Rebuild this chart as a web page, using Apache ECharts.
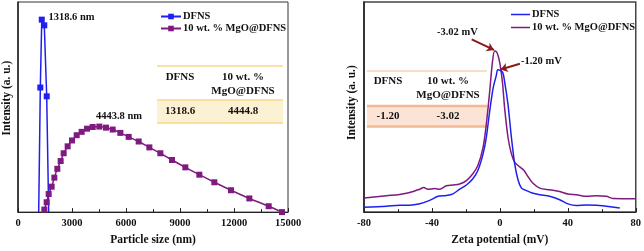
<!DOCTYPE html>
<html><head><meta charset="utf-8">
<script src="https://cdn.jsdelivr.net/npm/echarts@6/dist/echarts.min.js"></script>
<style>html,body{margin:0;padding:0;background:#fff}#c{width:644px;height:251px}</style>
</head><body><div id="c"></div>
<script>
// ---- Left chart: particle size distribution ----
const sizeTicks = [0, 3000, 6000, 9000, 12000, 15000];
const dfnsSize = [1150, 1240, 1320, 1460, 1595, 1705];
const dfnsSizeInt = [0, 59.3, 91.6, 88.9, 55.1, 0];
const mgoSize = [1463,1593,1704,1870,2019,2185,2370,2537,2759,3000,3260,3537,3834,4148,4519,4889,5260,5686,6149,6704,7297,7908,8556,9297,10075,10908,11834,12853,13927,14668];
const mgoSizeInt = [1.2,4.7,8.6,12.1,16.4,20.6,24.3,28.0,31.3,34.1,36.6,38.2,39.7,40.5,40.7,40.2,39.3,37.7,35.8,33.6,30.8,28.0,24.8,21.3,17.8,14.2,10.4,6.5,2.8,0];
const sizeTableHead = ['DFNS', '10 wt. %\nMgO@DFNS'];
const sizeTableVals = ['1318.6', '4444.8'];

// ---- Right chart: zeta potential ----
const zetaTicks = [-80, -40, 0, 40, 80];
const dfnsZeta = [-80,-66.8,-59,-53.1,-47.2,-41.3,-36.4,-31.5,-27.6,-23.7,-19.7,-15.8,-12.9,-9.9,-8,-6,-4,-2.1,-1.2,1.5,2.8,4.8,6.8,8.7,10.7,12.7,14.6,19.5,23.5,29.3,35.2,40.1,45,50.9,56.8,62.7,70.6];
const dfnsZetaInt = [2.3,2.8,3.3,3.3,4.0,5.6,7.5,7.9,8.7,10.9,12.9,16.0,19.9,27.7,35.5,48.0,58.9,65.1,67.8,66.7,62.0,51.1,35.5,23.1,15.3,11.4,10.6,9.0,8.3,7.5,5.9,3.9,3.1,3.4,3.3,2.8,2.0];
const mgoZeta = [-80,-66.8,-59,-53.1,-47.2,-44.9,-42.3,-38.4,-35.4,-31.5,-27.6,-23.7,-19.7,-15.8,-12.9,-9.9,-8,-6,-4.4,-3.02,-1.7,-0.1,1.5,2.8,4.8,6.8,8.7,11.7,14.1,16.6,19.5,23.5,29.3,35.2,40.1,45,50.9,56.8,62.7,66.6,80];
const mgoZetaInt = [6.7,7.8,8.4,9.3,10.9,11.7,10.9,11.2,10.9,12.5,12.9,13.4,15.0,18.4,22.3,30.8,41.7,57.3,71.3,76.8,76.0,71.3,62.0,49.5,35.5,27.7,23.8,21.5,19.9,16.8,13.7,11.4,10.6,9.8,8.6,8.3,7.5,7.8,7.5,6.5,6.4];
const zetaTableHead = ['DFNS', '10 wt. %\nMgO@DFNS'];
const zetaTableVals = ['-1.20', '-3.02'];

const FONT = 'Liberation Serif';
const BLUE = '#1f1fef', PURPLE = '#7e1a80', ARROW = '#8b1a1a';
const txt = (s) => ({fontFamily: FONT, fontWeight: 'bold', fontSize: s, color: '#111'});

const pair = (xs, ys) => xs.map((x, i) => [x, ys[i]]);
const dfnsSizeData = dfnsSize.map((x, i) => (dfnsSizeInt[i] === 0 ? {value: [x, 0], symbol: 'none'} : [x, dfnsSizeInt[i]]));

const chart = echarts.init(document.getElementById('c'));
const xBase = {
  type: 'value', nameLocation: 'middle', nameTextStyle: txt(11.5),
  axisLine: {show: true, onZero: false, lineStyle: {color: '#222', width: 1}},
  axisTick: {show: true, inside: true, length: 4, lineStyle: {color: '#222'}},
  minorTick: {show: true, splitNumber: 2, length: 3, lineStyle: {color: '#222'}},
  axisLabel: Object.assign(txt(10.5), {margin: 6, formatter: (v) => String(v)}), splitLine: {show: false}
};
const yBase = {
  type: 'value', min: 0, max: 100, nameLocation: 'middle',
  axisLine: {show: true, onZero: false, lineStyle: {color: '#222', width: 1.5}},
  axisTick: {show: false}, axisLabel: {show: false}, splitLine: {show: false}
};
const nameMap = {'DFNS': 'DFNS', 'MgO@DFNS size': '10 wt. % MgO@DFNS', 'DFNS zeta': 'DFNS', 'MgO@DFNS zeta': '10 wt. % MgO@DFNS'};

const option = {
  animation: false,
  grid: [
    {left: 17, top: 2, width: 271, height: 214, show: true, borderColor: '#333', borderWidth: 1},
    {left: 364, top: 2, width: 272, height: 214, show: true, borderColor: '#444', borderWidth: 1.5}
  ],
  xAxis: [
    Object.assign({}, xBase, {gridIndex: 0, min: sizeTicks[0], max: sizeTicks[sizeTicks.length - 1], interval: 3000, name: 'Particle size (nm)', nameGap: 21}),
    Object.assign({}, xBase, {gridIndex: 1, min: zetaTicks[0], max: zetaTicks[zetaTicks.length - 1], interval: 40, name: 'Zeta potential (mV)', nameGap: 19})
  ],
  yAxis: [
    Object.assign({}, yBase, {gridIndex: 0, name: 'Intensity (a. u.)', nameGap: 5, nameTextStyle: Object.assign(txt(11.5), {padding: [0, 0, 0, 18]})}),
    Object.assign({}, yBase, {gridIndex: 1, name: 'Intensity (a. u.)', nameGap: 6, nameTextStyle: Object.assign(txt(11.5), {padding: [0, 0, 0, 9]})})
  ],
  legend: [
    {data: ['DFNS', 'MgO@DFNS size'], orient: 'vertical', left: 155, top: 6, itemWidth: 20, itemHeight: 7, itemGap: 1,
     formatter: (n) => nameMap[n], textStyle: Object.assign(txt(10.5), {padding: [0, 0, 0, -3]})},
    {data: [{name: 'DFNS zeta', icon: 'rect'}, {name: 'MgO@DFNS zeta', icon: 'rect'}], orient: 'vertical', left: 506, top: 3, itemWidth: 19, itemHeight: 1.5, itemGap: 0,
     formatter: (n) => nameMap[n], textStyle: Object.assign(txt(10.5), {padding: [0, 0, 0, -3], lineHeight: 13})}
  ],
  series: [
    {name: 'DFNS', type: 'line', xAxisIndex: 0, yAxisIndex: 0, data: dfnsSizeData, symbol: 'rect', symbolSize: 6,
     lineStyle: {color: BLUE, width: 1.5}, itemStyle: {color: BLUE},
     markPoint: {symbol: 'circle', symbolSize: 0, data: [{coord: [2972, 92.5], value: '1318.6 nm'}],
       label: Object.assign(txt(10.5), {show: true, position: 'inside', formatter: '{c}'})}},
    {name: 'MgO@DFNS size', type: 'line', xAxisIndex: 0, yAxisIndex: 0, data: pair(mgoSize, mgoSizeInt), symbol: 'rect', symbolSize: 6, smooth: 0.3,
     lineStyle: {color: PURPLE, width: 1.5}, itemStyle: {color: PURPLE},
     markPoint: {symbol: 'circle', symbolSize: 0, data: [{coord: [5611, 45.8], value: '4443.8 nm'}],
       label: Object.assign(txt(10.5), {show: true, position: 'inside', formatter: '{c}'})}},
    {name: 'MgO@DFNS zeta', type: 'line', xAxisIndex: 1, yAxisIndex: 1, data: pair(mgoZeta, mgoZetaInt), showSymbol: false, symbol: 'none', smooth: 0.3,
     lineStyle: {color: PURPLE, width: 1.5}, itemStyle: {color: PURPLE},
     markLine: {silent: true, symbol: ['none', 'arrow'], symbolSize: 7, lineStyle: {color: ARROW, width: 2, type: 'solid'}, label: {show: false},
       data: [[{coord: [-16.6, 82.2]}, {coord: [-3.5, 77.2]}], [{coord: [11.8, 70.6]}, {coord: [0.4, 67.9]}]]},
     markPoint: {symbol: 'circle', symbolSize: 0, data: [{coord: [-25, 85.5], value: '-3.02 mV'}, {coord: [24.4, 72], value: '-1.20 mV'}],
       label: Object.assign(txt(10.5), {show: true, position: 'inside', formatter: '{c}'})}},
    {name: 'DFNS zeta', type: 'line', xAxisIndex: 1, yAxisIndex: 1, data: pair(dfnsZeta, dfnsZetaInt), showSymbol: false, symbol: 'none', smooth: 0.3,
     lineStyle: {color: BLUE, width: 1.5}, itemStyle: {color: BLUE}}
  ],
  graphic: []
};

// tables (annotation overlays)
function table(x0, x1, yTop, yMid, yBot, cols, head, vals, fill, lineColor, lwTop, lwMid, headY, valY) {
  const g = [];
  g.push({type: 'rect', shape: {x: x0, y: yMid, width: x1 - x0, height: yBot - yMid}, style: {fill: fill}, z: 1});
  g.push({type: 'line', shape: {x1: x0, y1: yTop, x2: x1, y2: yTop}, style: {stroke: lineColor, lineWidth: lwTop}, z: 2});
  g.push({type: 'line', shape: {x1: x0, y1: yMid, x2: x1, y2: yMid}, style: {stroke: lineColor, lineWidth: lwMid}, z: 2});
  g.push({type: 'line', shape: {x1: x0, y1: yBot, x2: x1, y2: yBot}, style: {stroke: lineColor, lineWidth: lwMid}, z: 2});
  cols.forEach((cx, i) => {
    g.push({type: 'text', x: cx, y: headY, z: 3, style: {text: head[i], fontFamily: FONT, fontWeight: 'bold', fontSize: 11, fill: '#111', align: 'center', verticalAlign: 'top', lineHeight: 14}});
    g.push({type: 'text', x: cx, y: valY, z: 3, style: {text: vals[i], fontFamily: FONT, fontWeight: 'bold', fontSize: 11, fill: '#111', align: 'center', verticalAlign: 'middle'}});
  });
  return g;
}
option.graphic = [].concat(
  table(157, 283, 66, 100, 123, [180, 243], sizeTableHead, sizeTableVals, '#fdf1d4', '#f6d98a', 1.5, 1.5, 70, 111.5),
  table(367, 487, 71, 106, 126.5, [388, 448], zetaTableHead, zetaTableVals, '#fbe4d6', '#f3b995', 1, 2.5, 74.5, 116.5)
);
chart.setOption(option);
</script></body></html>
